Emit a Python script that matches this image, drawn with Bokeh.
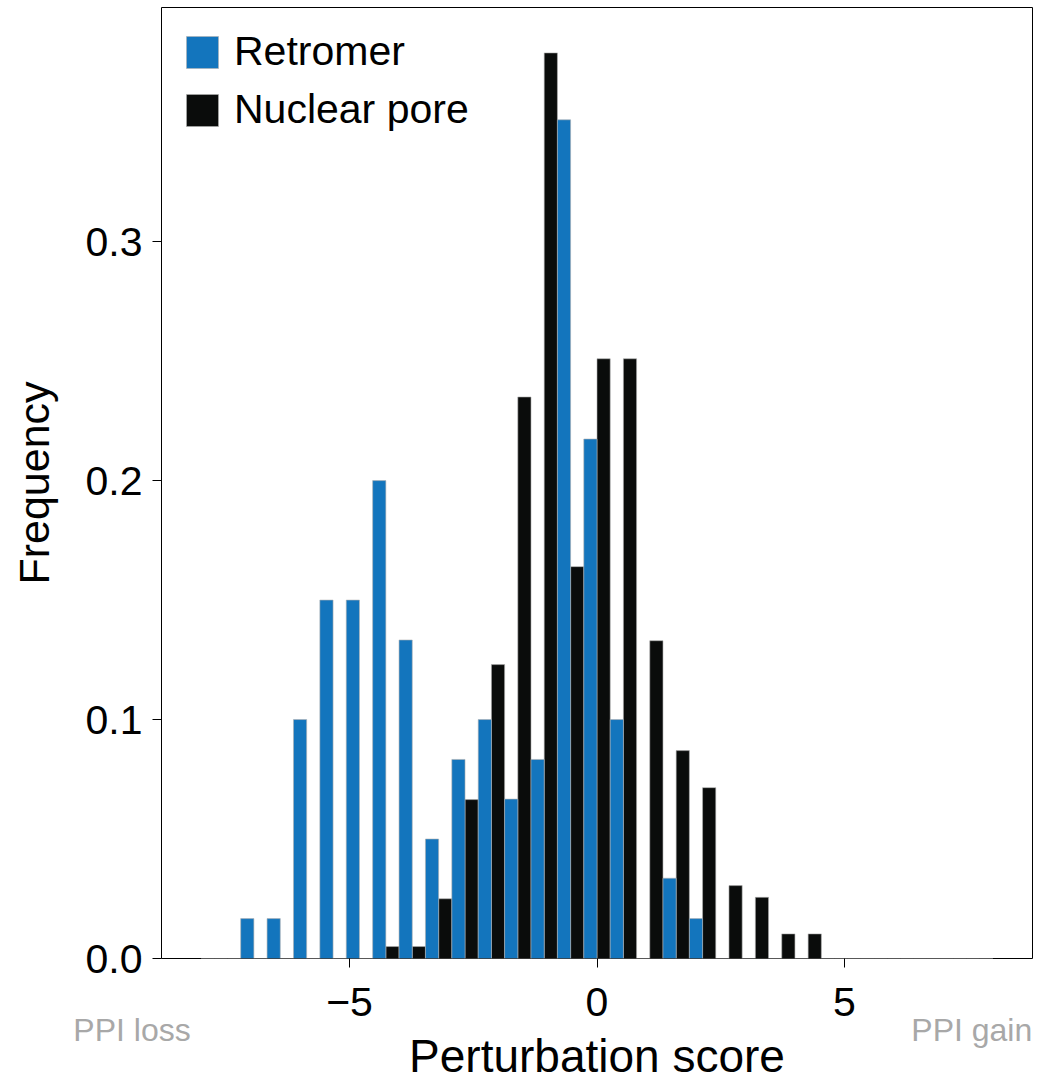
import numpy as np
from bokeh.plotting import figure
from bokeh.models import ColumnDataSource, FixedTicker, Legend, LegendItem, LinearAxis
from bokeh.transform import dodge
from bokeh.embed import file_html
from bokeh.resources import INLINE

# histogram bins: 30 bins spanning -8 .. 8
bin_lo = -8.0
bin_hi = 8.0
n_bins = 30

nuclear_pore = [0, 0, 0, 0, 0, 0, 0, 0.005, 0.005, 0.025, 0.0665, 0.123, 0.235, 0.379,
                0.164, 0.251, 0.251, 0.133, 0.087, 0.0715, 0.0305, 0.0256, 0.0103, 0.0103,
                0, 0, 0, 0, 0, 0]
retromer = [0, 0.0167, 0.0167, 0.1, 0.15, 0.15, 0.2, 0.1333, 0.05, 0.0833, 0.1, 0.0667,
            0.0833, 0.351, 0.2174, 0.1, 0, 0.0336, 0.0167, 0, 0, 0, 0, 0, 0, 0, 0, 0, 0, 0]

x_ticks = [-5, 0, 5]
x_tick_labels = {-5: "\u22125", 0: "0", 5: "5"}
y_ticks = [0, 0.1, 0.2, 0.3]
y_tick_labels = {0: "0.0", 0.1: "0.1", 0.2: "0.2", 0.3: "0.3"}
side_labels = ["PPI loss", "PPI gain"]

edges = np.linspace(bin_lo, bin_hi, n_bins + 1)
centers = (edges[:-1] + edges[1:]) / 2
bw = edges[1] - edges[0]

src = ColumnDataSource(dict(center=centers, nuc=nuclear_pore, ret=retromer))

FONT = "Liberation Sans"
BLUE = "#1375bd"
BLACK = "#0a0c0b"

p = figure(frame_width=871, frame_height=951, x_range=(-8.8, 8.8), y_range=(0, 0.398),
           output_backend="svg", toolbar_location=None,
           min_border_left=161, min_border_right=4, min_border_top=7, min_border_bottom=0)

r_nuc = p.vbar(x=dodge("center", -bw / 4, range=p.x_range), top="nuc", width=bw / 2, source=src,
               fill_color=BLACK, line_color="#b0b0b0", line_width=0.6)
r_ret = p.vbar(x=dodge("center", bw / 4, range=p.x_range), top="ret", width=bw / 2, source=src,
               fill_color=BLUE, line_color="#b0b0b0", line_width=0.6)

p.xgrid.visible = False
p.ygrid.visible = False
p.outline_line_color = "black"
p.outline_line_width = 1
p.background_fill_color = "white"
p.border_fill_color = "white"

for ax in (p.xaxis[0], p.yaxis[0]):
    ax.axis_line_color = None
    ax.major_tick_line_color = "black"
    ax.major_tick_line_width = 1
    ax.major_tick_in = 0
    ax.major_tick_out = 9
    ax.minor_tick_line_color = None
    ax.major_label_text_font = FONT
    ax.major_label_text_font_size = "41px"
    ax.major_label_text_color = "black"
    ax.axis_label_text_font = FONT
    ax.axis_label_text_font_style = "normal"
    ax.axis_label_text_color = "black"

p.xaxis.ticker = FixedTicker(ticks=x_ticks)
p.xaxis.major_label_overrides = x_tick_labels
p.xaxis.major_label_standoff = 20

p.yaxis.ticker = FixedTicker(ticks=y_ticks)
p.yaxis.major_label_overrides = y_tick_labels
p.yaxis.major_label_standoff = 10
p.yaxis.axis_label = "Frequency"
p.yaxis.axis_label_text_font_size = "43px"
p.yaxis.axis_label_standoff = 25

# second bottom axis carrying the grey side annotations and the axis title
side_axis = LinearAxis(ticker=FixedTicker(ticks=[-8.21, 8.795]),
                       major_label_overrides={-8.21: side_labels[0], 8.795: side_labels[1]})
side_axis.axis_line_color = None
side_axis.major_tick_line_color = None
side_axis.major_tick_out = 0
side_axis.major_tick_in = 0
side_axis.minor_tick_line_color = None
side_axis.major_label_orientation = 0.0001
side_axis.major_label_text_font = FONT
side_axis.major_label_text_font_size = "32px"
side_axis.major_label_text_color = "#a8a8a8"
side_axis.major_label_standoff = 11
side_axis.axis_label = "Perturbation score"
side_axis.axis_label_text_font = FONT
side_axis.axis_label_text_font_size = "46px"
side_axis.axis_label_text_font_style = "normal"
side_axis.axis_label_text_color = "black"
side_axis.axis_label_standoff = -39
p.add_layout(side_axis, "below")

legend = Legend(items=[LegendItem(label="Retromer", renderers=[r_ret]),
                       LegendItem(label="Nuclear pore", renderers=[r_nuc])],
                location="top_left")
legend.label_text_font = FONT
legend.label_text_font_size = "41px"
legend.label_text_color = "black"
legend.glyph_width = 40
legend.glyph_height = 40
legend.label_height = 40
legend.label_standoff = 12
legend.spacing = 11
legend.margin = 21
legend.padding = 10
legend.border_line_color = None
legend.background_fill_alpha = 0
p.add_layout(legend)

open("out.html", "w").write(file_html(p, INLINE))
